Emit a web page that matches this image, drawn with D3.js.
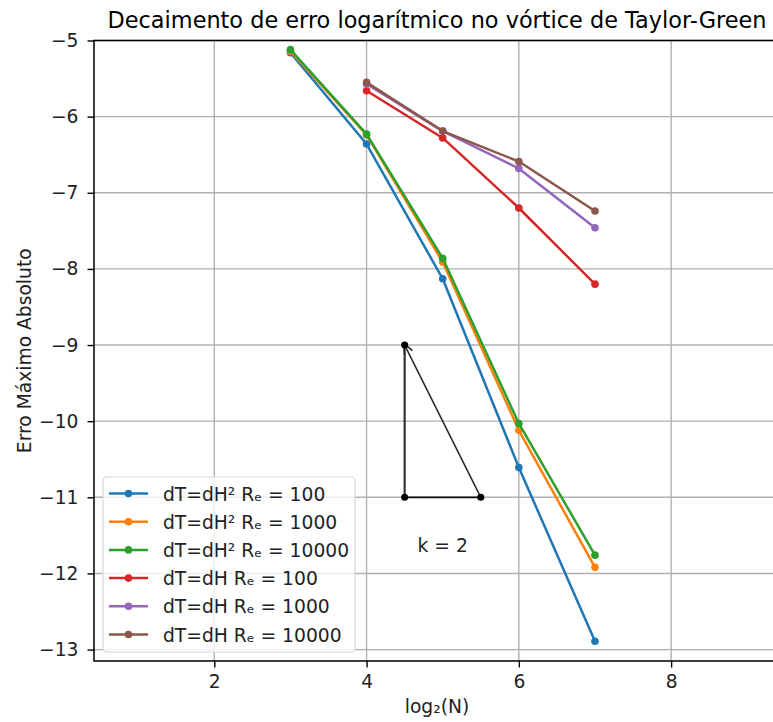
<!DOCTYPE html>
<html>
<head>
<meta charset="utf-8">
<script src="https://cdn.jsdelivr.net/npm/d3@7"></script>
<style>
  html, body { margin: 0; padding: 0; background: #fff; }
  svg { display: block; font-family: "DejaVu Sans", sans-serif; }
</style>
</head>
<body>
<svg id="chart" width="773" height="722"></svg>
<script>
// Grid refinement levels (log2 of N)
const levels = [3, 4, 5, 6, 7];

// log10 of the maximum absolute error for each scheme / Reynolds number
const dH2Re100   = [-5.16, -6.36, -8.13, -10.61, -12.89];
const dH2Re1000  = [-5.14, -6.24, -7.91, -10.12, -11.92];
const dH2Re10000 = [-5.12, -6.23, -7.86, -10.03, -11.76];
const dHRe100    = [null, -5.66, -6.28, -7.20, -8.20];
const dHRe1000   = [null, -5.57, -6.19, -6.68, -7.46];
const dHRe10000  = [null, -5.55, -6.19, -6.59, -7.24];

const seriesNames = [
  "dT=dH² Rₑ = 100", "dT=dH² Rₑ = 1000", "dT=dH² Rₑ = 10000",
  "dT=dH Rₑ = 100", "dT=dH Rₑ = 1000", "dT=dH Rₑ = 10000"
];
const seriesValues = [dH2Re100, dH2Re1000, dH2Re10000, dHRe100, dHRe1000, dHRe10000];
const colors = ["#1f77b4", "#ff7f0e", "#2ca02c", "#d62728", "#9467bd", "#8c564b"];

// Slope reference triangle (k = 2)
const triX = [4.5, 5.5, 4.5];
const triY = [-11, -11, -9];
const slopeLabel = "k = 2";

const xTicks = [2, 4, 6, 8];
const yTicks = [-5, -6, -7, -8, -9, -10, -11, -12, -13];

const FS = 18.7;      // base font size
const svg = d3.select("#chart");
const m = { left: 94, top: 40.5, right: 780, bottom: 661 };

const x = d3.scaleLinear().domain([0.42, 9.43]).range([m.left, m.right]);
const y = d3.scaleLinear().domain([-5, -13.15]).range([m.top, m.bottom]);

// Title
svg.append("text")
  .attr("x", (m.left + m.right) / 2).attr("y", 28)
  .attr("text-anchor", "middle")
  .attr("font-size", 22.4).attr("fill", "#000")
  .text("Decaimento de erro logarítmico no vórtice de Taylor-Green");

const plot = svg.append("g");

// Grid
plot.append("g").selectAll("line").data(xTicks).join("line")
  .attr("x1", d => x(d)).attr("x2", d => x(d))
  .attr("y1", m.top).attr("y2", m.bottom)
  .attr("stroke", "#b0b0b0").attr("stroke-width", 1.4);
plot.append("g").selectAll("line").data(yTicks).join("line")
  .attr("x1", m.left).attr("x2", m.right)
  .attr("y1", d => y(d)).attr("y2", d => y(d))
  .attr("stroke", "#b0b0b0").attr("stroke-width", 1.4);

// Series
const line = d3.line()
  .defined(d => d[1] !== null)
  .x(d => x(d[0])).y(d => y(d[1]));

seriesValues.forEach((vals, i) => {
  const pts = levels.map((l, j) => [l, vals[j]]).filter(d => d[1] !== null);
  const g = plot.append("g");
  g.append("path").datum(pts)
    .attr("d", line).attr("fill", "none")
    .attr("stroke", colors[i]).attr("stroke-width", 2.5)
    .attr("stroke-linejoin", "round").attr("stroke-linecap", "round");
  g.selectAll("circle").data(pts).join("circle")
    .attr("cx", d => x(d[0])).attr("cy", d => y(d[1]))
    .attr("r", 3.8).attr("fill", colors[i]);
});

// Slope triangle
const tri = plot.append("g");
tri.append("line")
  .attr("x1", x(triX[0])).attr("y1", y(triY[0]))
  .attr("x2", x(triX[2])).attr("y2", y(triY[2]))
  .attr("stroke", "#333").attr("stroke-width", 2.2);
tri.append("line")
  .attr("x1", x(triX[0])).attr("y1", y(triY[0]))
  .attr("x2", x(triX[1])).attr("y2", y(triY[1]))
  .attr("stroke", "#111").attr("stroke-width", 1.8);
// Hypotenuse drawn as an arrow towards the top vertex
tri.append("line")
  .attr("x1", x(triX[1])).attr("y1", y(triY[1]))
  .attr("x2", x(triX[2])).attr("y2", y(triY[2]))
  .attr("stroke", "#222").attr("stroke-width", 1.5);
{
  const x0 = x(triX[1]), y0 = y(triY[1]), x1 = x(triX[2]), y1 = y(triY[2]);
  const ang = Math.atan2(y1 - y0, x1 - x0);
  const len = 11, spread = 0.42;
  const tip = [x1 + 1.5 * Math.cos(ang), y1 + 1.5 * Math.sin(ang)];
  const a = [tip[0] - len * Math.cos(ang - spread), tip[1] - len * Math.sin(ang - spread)];
  const b = [tip[0] - len * Math.cos(ang + spread), tip[1] - len * Math.sin(ang + spread)];
  tri.append("path")
    .attr("d", `M${a[0]},${a[1]}L${tip[0]},${tip[1]}L${b[0]},${b[1]}`)
    .attr("fill", "none").attr("stroke", "#222").attr("stroke-width", 1.5);
}
tri.selectAll("circle").data(triX.map((v, i) => [v, triY[i]])).join("circle")
  .attr("cx", d => x(d[0])).attr("cy", d => y(d[1]))
  .attr("r", 3.5).attr("fill", "#000");
tri.append("text")
  .attr("x", x(5.0)).attr("y", 552)
  .attr("text-anchor", "middle").attr("font-size", FS).attr("fill", "#222")
  .text(slopeLabel);

// Spines (right edge falls outside the figure)
svg.append("path")
  .attr("d", `M${m.right},${m.top}H${m.left}V${m.bottom}H${m.right}`)
  .attr("fill", "none").attr("stroke", "#000").attr("stroke-width", 1.5);

// Axes ticks + labels
const xAxis = svg.append("g").attr("transform", `translate(0,${m.bottom})`)
  .call(d3.axisBottom(x).tickValues(xTicks).tickSize(6.5).tickPadding(7).tickFormat(d3.format("d")));
const yAxis = svg.append("g").attr("transform", `translate(${m.left},0)`)
  .call(d3.axisLeft(y).tickValues(yTicks).tickSize(6.5).tickPadding(9)
    .tickFormat(d => "\u2212" + Math.abs(d)));
[xAxis, yAxis].forEach(a => {
  a.select(".domain").remove();
  a.selectAll("line").attr("stroke", "#000").attr("stroke-width", 1.4);
  a.selectAll("text").attr("font-size", FS).attr("fill", "#222")
    .attr("font-family", "DejaVu Sans, sans-serif");
});

svg.append("text")
  .attr("x", (m.left + m.right) / 2).attr("y", 713)
  .attr("text-anchor", "middle").attr("font-size", FS).attr("fill", "#222")
  .text("log₂(N)");
svg.append("text")
  .attr("transform", `translate(31,${(m.top + m.bottom) / 2}) rotate(-90)`)
  .attr("text-anchor", "middle").attr("font-size", FS).attr("fill", "#222")
  .text("Erro Máximo Absoluto");

// Legend
const lg = svg.append("g").attr("transform", "translate(103,477)");
lg.append("rect")
  .attr("width", 252).attr("height", 175).attr("rx", 4)
  .attr("fill", "#fff").attr("fill-opacity", 0.8)
  .attr("stroke", "#d9d9d9").attr("stroke-width", 1.2);
seriesNames.forEach((name, i) => {
  const yy = 16.5 + i * 28.2;
  lg.append("line").attr("x1", 6).attr("x2", 45).attr("y1", yy).attr("y2", yy)
    .attr("stroke", colors[i]).attr("stroke-width", 2.5);
  lg.append("circle").attr("cx", 25.5).attr("cy", yy).attr("r", 3.8).attr("fill", colors[i]);
  lg.append("text").attr("x", 60).attr("y", yy + 7)
    .attr("font-size", FS).attr("fill", "#222").text(name);
});
</script>
</body>
</html>
